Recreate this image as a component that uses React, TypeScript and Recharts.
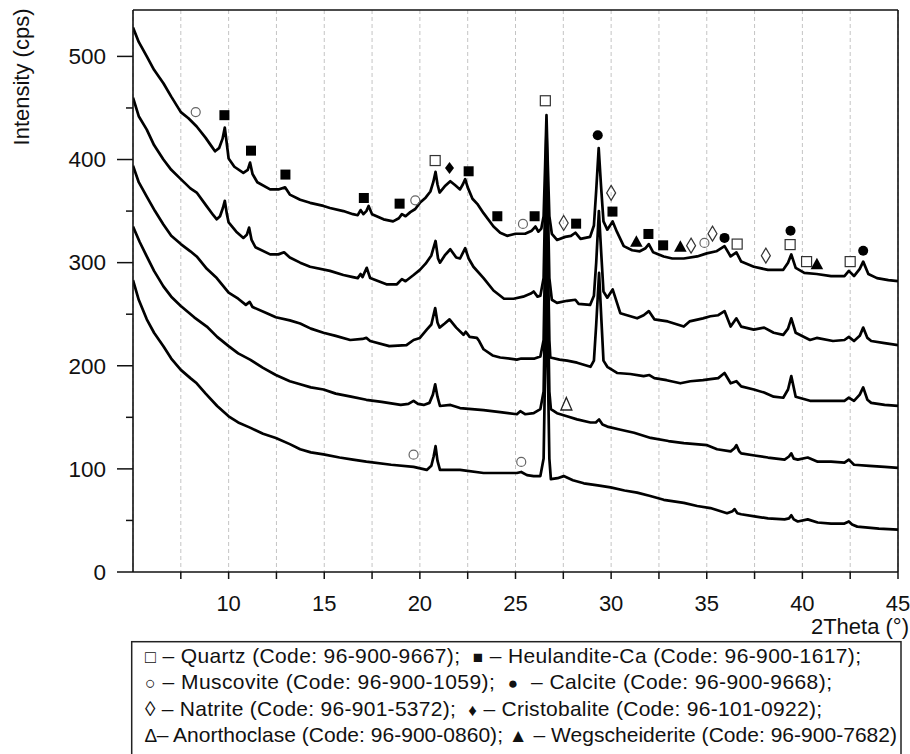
import React from "react";
import { ComposedChart, Line, Scatter, XAxis, YAxis, CartesianGrid, ReferenceLine } from "recharts";

// ---- XRD patterns (2Theta, intensity), top to bottom ----
const sample1: number[][] = [
  [5.0,528],[5.3,514],[5.72,500],[6.1,487],[6.59,474],[7.0,461],[7.5,446],[7.9,440],[8.33,432],[8.8,421],[9.1,413],[9.29,408],[9.5,411],[9.68,420],[9.8,431],[9.9,416],[10.0,401],[10.3,393],[10.77,387],[11.0,390],[11.12,397],[11.25,386],[11.5,378],[12.17,371],[12.6,371],[12.95,373],[13.2,366],[13.74,361],[14.26,358],[14.96,355],[15.3,353],[16.0,350],[16.5,347],[16.75,346],[16.9,351],[17.05,347],[17.2,350],[17.32,355],[17.5,347],[18.1,342],[18.6,340],[18.9,343],[19.06,347],[19.25,345],[19.5,349],[19.76,352],[20.0,358],[20.3,363],[20.55,369],[20.7,378],[20.82,388],[20.92,376],[21.03,368],[21.3,374],[21.59,379],[21.85,375],[22.1,371],[22.25,376],[22.37,381],[22.5,373],[22.75,362],[23.0,357],[23.33,348],[23.85,335],[24.2,329],[24.56,326],[25.0,328],[25.5,328],[25.85,331],[26.04,335],[26.2,330],[26.35,333],[26.47,345],[26.55,395],[26.62,443],[26.69,395],[26.77,345],[26.9,328],[27.17,322],[27.6,325],[27.9,326],[28.13,329],[28.4,323],[28.9,325],[29.1,336],[29.22,370],[29.35,411],[29.47,375],[29.6,340],[29.8,332],[30.08,340],[30.3,330],[30.66,316],[31.1,312],[31.5,311],[31.8,314],[31.97,318],[32.2,310],[32.75,306],[33.2,304],[33.8,304],[34.5,306],[35.0,309],[35.5,311],[35.93,316],[36.25,306],[36.55,310],[36.8,301],[37.46,296],[38.2,293],[39.0,293],[39.25,300],[39.42,308],[39.65,295],[40.1,290],[40.75,289],[41.5,287],[42.2,287],[42.43,292],[42.7,287],[43.0,294],[43.18,301],[43.45,289],[43.9,285],[44.5,283],[45,282]
];
const sample2: number[][] = [
  [5.0,460],[5.3,442],[5.72,429],[6.1,414],[6.59,400],[7.0,390],[7.5,381],[8.0,372],[8.33,368],[8.8,356],[9.2,346],[9.38,342],[9.55,345],[9.7,353],[9.8,360],[9.9,348],[10.0,339],[10.4,330],[10.77,324],[10.95,327],[11.07,334],[11.2,322],[11.4,315],[12.17,308],[12.6,308],[12.9,310],[13.2,305],[13.74,300],[14.26,296],[15.3,292],[16.0,288],[16.5,286],[16.75,285],[16.9,289],[17.0,286],[17.22,295],[17.4,285],[18.25,279],[18.8,279],[19.06,284],[19.25,282],[19.67,288],[20.0,293],[20.3,299],[20.6,307],[20.82,321],[20.95,304],[21.05,300],[21.3,307],[21.59,313],[21.9,305],[22.1,304],[22.37,314],[22.55,304],[22.8,296],[23.33,285],[23.85,273],[24.4,265],[24.9,265],[25.4,267],[25.8,270],[25.95,272],[26.15,267],[26.3,268],[26.47,285],[26.55,360],[26.62,430],[26.69,360],[26.77,285],[26.9,264],[27.17,261],[27.7,263],[28.13,264],[28.3,260],[28.9,259],[29.1,268],[29.22,300],[29.36,350],[29.48,310],[29.6,272],[29.8,266],[30.08,274],[30.48,251],[31.36,246],[31.7,249],[31.97,253],[32.26,245],[32.96,243],[33.8,238],[34.1,243],[34.8,246],[35.19,248],[35.6,249],[35.93,253],[36.25,238],[36.55,246],[36.8,238],[37.46,235],[38.0,237],[38.5,232],[39.0,230],[39.25,236],[39.42,246],[39.65,232],[40.4,225],[40.75,227],[41.6,224],[42.2,225],[42.43,228],[42.7,224],[43.0,229],[43.18,237],[43.4,227],[43.6,224],[44.3,222],[45,220]
];
const sample3: number[][] = [
  [5.0,394],[5.3,378],[5.72,364],[6.15,350],[6.59,337],[7.0,326],[7.5,318],[8.0,311],[8.33,306],[8.86,294],[9.38,285],[10.0,271],[10.5,265],[10.9,259],[11.1,262],[11.25,257],[12.0,251],[12.47,247],[13.2,244],[13.74,241],[14.3,236],[14.96,232],[15.6,229],[16.36,225],[17.0,226],[17.2,227],[17.4,224],[18.4,219],[19.3,220],[19.67,225],[20.0,227],[20.36,235],[20.6,240],[20.8,256],[20.92,242],[21.03,237],[21.3,241],[21.55,245],[21.9,237],[22.28,230],[22.4,233],[22.6,228],[22.98,227],[23.1,224],[23.33,216],[23.8,210],[24.2,208],[25.07,206],[25.3,207],[26.0,207],[26.3,209],[26.47,225],[26.55,310],[26.62,385],[26.69,310],[26.77,225],[26.82,208],[27.3,206],[27.7,205],[28.22,203],[28.92,199],[29.1,205],[29.22,240],[29.37,290],[29.49,245],[29.6,205],[29.8,199],[30.31,193],[31.0,192],[31.7,190],[32.0,191],[32.26,188],[32.9,186],[33.62,183],[34.14,185],[34.8,186],[35.19,187],[35.6,188],[35.93,193],[36.25,183],[36.55,185],[36.8,180],[37.46,177],[38.0,174],[38.5,170],[39.0,169],[39.25,177],[39.42,190],[39.65,170],[40.4,166],[41.0,166],[41.6,166],[42.2,166],[42.43,169],[42.7,166],[43.0,172],[43.18,179],[43.4,167],[43.6,164],[44.3,162],[45,161]
];
const sample4: number[][] = [
  [5.0,335],[5.35,320],[5.72,306],[6.1,292],[6.59,277],[7.0,267],[7.5,258],[8.2,247],[8.86,238],[9.4,228],[10.0,219],[10.5,212],[11.12,206],[11.8,198],[12.47,191],[13.2,185],[13.74,182],[14.3,179],[14.96,177],[15.6,173],[16.4,170],[17.2,167],[18.0,165],[19.0,162],[19.4,163],[19.67,166],[19.9,163],[20.2,162],[20.5,164],[20.68,172],[20.8,182],[20.92,170],[21.05,161],[21.6,162],[22.1,159],[23.33,157],[24.2,155],[25.07,153],[25.25,156],[25.5,153],[25.95,154],[26.3,158],[26.47,175],[26.55,260],[26.62,335],[26.69,260],[26.77,175],[26.85,158],[27.17,154],[27.69,151],[28.22,148],[28.92,145],[29.2,145],[29.37,148],[29.55,143],[29.8,141],[30.5,138],[31.2,135],[32.07,130],[33.0,127],[33.8,125],[35.02,123],[35.54,119],[36.25,117],[36.45,120],[36.55,123],[36.7,117],[36.8,115],[37.5,113],[38.2,111],[39.07,109],[39.3,112],[39.42,115],[39.55,110],[39.76,109],[40.28,111],[40.8,107],[41.5,107],[42.2,106],[42.43,109],[42.7,104],[43.5,103],[44.3,102],[45,101]
];
const sample5: number[][] = [
  [5.0,283],[5.3,264],[5.72,245],[6.1,232],[6.59,219],[7.0,207],[7.5,196],[8.0,188],[8.33,183],[8.8,173],[9.4,161],[10.0,151],[10.5,145],[11.12,140],[11.8,134],[12.47,130],[13.2,124],[13.74,119],[14.3,116],[14.96,114],[15.8,111],[16.5,109],[17.2,107],[18.5,104],[19.67,102],[20.36,99],[20.6,103],[20.72,112],[20.82,122],[20.92,108],[21.05,99],[22.1,99],[23.33,96],[24.2,96],[25.07,96],[25.3,97],[25.6,94],[25.95,93],[26.3,93],[26.47,110],[26.55,200],[26.62,275],[26.69,200],[26.77,110],[26.85,90],[27.2,91],[27.52,93],[28.0,89],[28.57,86],[29.3,84],[29.97,82],[30.7,79],[31.36,77],[32.0,74],[32.75,70],[33.8,67],[34.5,64],[35.19,62],[36.06,57],[36.35,59],[36.45,61],[36.6,57],[36.8,56],[37.5,54],[38.2,52],[39.07,51],[39.3,52],[39.42,55],[39.55,51],[39.76,49],[40.28,51],[40.8,48],[41.5,47],[42.2,47],[42.43,49],[42.6,46],[42.87,44],[44,42],[45,41]
];

// ---- Phase markers (2Theta, intensity where the symbol sits) ----
const quartzMarks: number[][] = [[20.8,399],[26.56,457],[36.59,318],[39.36,317.5],[40.22,301],[42.5,301]];
const heulanditeMarks: number[][] = [[9.78,443],[11.17,408.6],[12.97,385.4],[17.07,362.7],[18.94,357.2],[22.55,388.6],[24.05,345],[26.0,345],[28.17,337.8],[30.07,349.5],[31.95,327.8],[32.72,316.8]];
const muscoviteMarks: number[][] = [[8.28,446],[19.76,360.4],[25.39,337.5],[34.88,319.1],[19.67,113.8],[25.3,106.7]];
const calciteMarks: number[][] = [[29.3,423.5],[35.93,324],[39.38,331],[43.18,311.6]];
const natriteMarks: number[][] = [[27.52,338.5],[30.0,367.6],[34.18,316.5],[35.3,328.1],[38.09,306.8]];
const cristobaliteMarks: number[][] = [[21.55,391.8]];
const anorthoclaseMarks: number[][] = [[27.66,163.2]];
const wegscheideriteMarks: number[][] = [[31.32,320.7],[33.62,315.8],[40.76,299]];

const xTicks = [7.5, 10, 12.5, 15, 17.5, 20, 22.5, 25, 27.5, 30, 32.5, 35, 37.5, 40, 42.5, 45];
const yTicks = [0, 50, 100, 150, 200, 250, 300, 350, 400, 450, 500];

// legend rows: [symbol, text, symbol, text]
const legendRows: string[][] = [
  ["\u25A1", " \u2013 Quartz (Code: 96-900-9667);  ", "\u25A0", " \u2013 Heulandite-Ca (Code: 96-900-1617);"],
  ["\u25CB", " \u2013 Muscovite (Code: 96-900-1059);  ", "\u25CF", "  \u2013 Calcite (Code: 96-900-9668);"],
  ["\u25CA", " \u2013 Natrite (Code: 96-901-5372);  ", "\u2666", " \u2013 Cristobalite (Code: 96-101-0922);"],
  ["\u2206", "\u2013 Anorthoclase (Code: 96-900-0860); ", "\u25B2", " \u2013 Wegscheiderite (Code: 96-900-7682)"],
];
const legendSymbolSizes: number[][] = [[18, 17], [18, 17], [21, 17], [19, 19]];
const legendRowWidths = [716, 687, 677, 752];

const toPts = (a: number[][]) => a.map(([x, y]) => ({ x, y }));
const FONT = "'Liberation Sans', Arial, sans-serif";
const INK = "#111";

const XTick = (p: any) => {
  const { x, y, payload } = p;
  const v = payload.value;
  const major = Math.abs(v % 5) < 1e-6;
  return (
    <g>
      <line x1={x} y1={y} x2={x} y2={y + 7} stroke={INK} strokeWidth={1.5} />
      {major && (
        <text x={x} y={y + 39} textAnchor="middle" fontSize={22} fill={INK} fontFamily={FONT}>
          {v}
        </text>
      )}
    </g>
  );
};

const YTick = (p: any) => {
  const { x, y, payload } = p;
  const v = payload.value;
  const major = v % 100 === 0;
  return (
    <g>
      <line x1={x} y1={y} x2={x - (major ? 16 : 7)} y2={y} stroke={INK} strokeWidth={1.5} />
      {major && (
        <text x={x - 27} y={y + 7.8} textAnchor="end" fontSize={22.5} fill={INK} fontFamily={FONT}>
          {v}
        </text>
      )}
    </g>
  );
};

const shapeHollowSquare = (p: any) => (
  <rect x={p.cx - 5} y={p.cy - 5} width={10} height={10} fill="#fff" stroke="#333" strokeWidth={1.2} />
);
const shapeFilledSquare = (p: any) => (
  <rect x={p.cx - 5} y={p.cy - 5} width={10} height={10} fill="#000" />
);
const shapeHollowCircle = (p: any) => (
  <circle cx={p.cx} cy={p.cy} r={4.5} fill="none" stroke="#666" strokeWidth={1.2} />
);
const shapeFilledCircle = (p: any) => <circle cx={p.cx} cy={p.cy} r={5} fill="#000" />;
const shapeHollowDiamond = (p: any) => (
  <polygon
    points={`${p.cx},${p.cy - 7.5} ${p.cx + 4.5},${p.cy} ${p.cx},${p.cy + 7.5} ${p.cx - 4.5},${p.cy}`}
    fill="none" stroke="#333" strokeWidth={1.2}
  />
);
const shapeFilledDiamond = (p: any) => (
  <polygon points={`${p.cx},${p.cy - 6} ${p.cx + 4.5},${p.cy} ${p.cx},${p.cy + 6} ${p.cx - 4.5},${p.cy}`} fill="#000" />
);
const shapeFilledTriangle = (p: any) => (
  <polygon points={`${p.cx},${p.cy - 6} ${p.cx + 6.3},${p.cy + 5.5} ${p.cx - 6.3},${p.cy + 5.5}`} fill="#000" />
);
const shapeHollowTriangle = (p: any) => (
  <polygon
    points={`${p.cx},${p.cy - 6.3} ${p.cx + 5.5},${p.cy + 6.3} ${p.cx - 5.5},${p.cy + 6.3}`}
    fill="none" stroke="#222" strokeWidth={1.3}
  />
);

const samples = [sample1, sample2, sample3, sample4, sample5];
const markerSets: [number[][], (p: any) => React.ReactElement][] = [
  [quartzMarks, shapeHollowSquare],
  [heulanditeMarks, shapeFilledSquare],
  [muscoviteMarks, shapeHollowCircle],
  [calciteMarks, shapeFilledCircle],
  [natriteMarks, shapeHollowDiamond],
  [cristobaliteMarks, shapeFilledDiamond],
  [anorthoclaseMarks, shapeHollowTriangle],
  [wegscheideriteMarks, shapeFilledTriangle],
];

export default function App() {
  return (
    <div style={{ position: "absolute", left: 0, top: 0, width: 910, height: 754, background: "#fff" }}>
      <ComposedChart width={910} height={754} margin={{ top: 10, right: 12, bottom: 152, left: 73 }}>
        <CartesianGrid horizontal={false} vertical stroke="#c4c4c4" strokeDasharray="4 3" />
        <XAxis
          type="number"
          dataKey="x"
          domain={[5, 45]}
          ticks={xTicks}
          interval={0}
          allowDataOverflow
          height={30}
          tickSize={0}
          tickMargin={0}
          tickLine={false}
          axisLine={{ stroke: INK, strokeWidth: 1.6 }}
          tick={XTick}
        />
        <YAxis
          type="number"
          dataKey="y"
          domain={[0, 545]}
          ticks={yTicks}
          interval={0}
          allowDataOverflow
          width={60}
          tickSize={0}
          tickMargin={0}
          tickLine={false}
          axisLine={{ stroke: INK, strokeWidth: 1.6 }}
          tick={YTick}
        />
        <ReferenceLine y={545} stroke={INK} strokeWidth={1.6} />
        <ReferenceLine x={45} stroke={INK} strokeWidth={1.6} />
        {samples.map((s, i) => (
          <Line
            key={"s" + i}
            data={toPts(s)}
            dataKey="y"
            type="linear"
            stroke="#000"
            strokeWidth={2.7}
            strokeLinejoin="round"
            dot={false}
            activeDot={false}
            isAnimationActive={false}
          />
        ))}
        {markerSets.map(([d, shape], i) => (
          <Scatter key={"m" + i} data={toPts(d)} dataKey="y" shape={shape} isAnimationActive={false} />
        ))}
      </ComposedChart>
      <svg width={910} height={754} style={{ position: "absolute", left: 0, top: 0, pointerEvents: "none" }}>
        <text transform="translate(29,77) rotate(-90)" textAnchor="middle" fontSize={22} fill={INK} fontFamily={FONT}>
          Intensity (cps)
        </text>
        <text x={909} y={634} textAnchor="end" fontSize={22} fill={INK} fontFamily={FONT}>
          2Theta (°)
        </text>
        <rect x={131.7} y={641.7} width={769.3} height={130} fill="#fff" stroke="#222" strokeWidth={1.5} />
        {legendRows.map((r, i) => (
          <text
            key={i}
            x={145}
            y={663 + i * 26.3}
            fontSize={21}
            fill={INK}
            fontFamily={FONT}
            xmlSpace="preserve"
            textLength={legendRowWidths[i]}
            lengthAdjust="spacing"
            style={{ whiteSpace: "pre" }}
          >
            <tspan fontSize={legendSymbolSizes[i][0]}>{r[0]}</tspan>
            <tspan>{r[1]}</tspan>
            <tspan fontSize={legendSymbolSizes[i][1]}>{r[2]}</tspan>
            <tspan>{r[3]}</tspan>
          </text>
        ))}
      </svg>
    </div>
  );
}
